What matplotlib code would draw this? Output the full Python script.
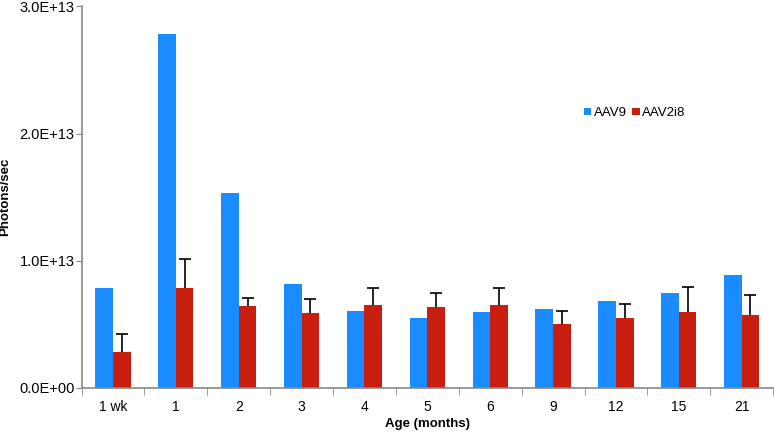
import numpy as np
import matplotlib
matplotlib.use("Agg")
import matplotlib.pyplot as plt
from matplotlib.ticker import FuncFormatter

plt.rcParams['font.family'] = ['Liberation Sans', 'DejaVu Sans']

ages = ['1 wk', '1', '2', '3', '4', '5', '6', '9', '12', '15', '21']
aav9 = [7.8e12, 2.78e13, 1.53e13, 8.15e12, 6.0e12, 5.45e12, 5.95e12, 6.2e12, 6.8e12, 7.45e12, 8.85e12]
aav2i8 = [2.8e12, 7.8e12, 6.45e12, 5.9e12, 6.5e12, 6.35e12, 6.5e12, 5.0e12, 5.45e12, 5.95e12, 5.75e12]
aav2i8_err = [1.45e12, 2.3e12, 0.6e12, 1.05e12, 1.37e12, 1.06e12, 1.37e12, 1.06e12, 1.16e12, 1.95e12, 1.53e12]

blue = '#1a8cff'
red = '#c81e10'
w = 0.28

fig = plt.figure(figsize=(7.77, 4.33), dpi=100)
ax = fig.add_axes([0.105, 0.105, 0.89, 0.88])

x = np.arange(len(ages))
ax.bar(x - w / 2, aav9, w, color=blue, label='AAV9')
bars = ax.bar(x + w / 2, aav2i8, w, color=red, label='AAV2i8',
              yerr=[np.zeros(len(aav2i8)), aav2i8_err],
              error_kw=dict(ecolor='black', elinewidth=1.2, capsize=4, capthick=1.2))
# hide the lower caps (only upward error bars in the original)
caps = bars.errorbar.lines[1]
if len(caps) > 1:
    caps[0].set_visible(False)

ax.set_xlim(-0.5, len(ages) - 0.5)
ax.set_ylim(0, 3e13)
ax.set_yticks([0, 1e13, 2e13, 3e13])
ax.yaxis.set_major_formatter(FuncFormatter(lambda v, p: f"{v:.1E}"))

ax.set_xticks(x)
ax.set_xticklabels(ages)
ax.set_xticks(np.arange(-0.5, len(ages), 1), minor=True)
ax.tick_params(axis='x', which='major', length=0, pad=9, labelsize=10)
ax.tick_params(axis='x', which='minor', length=5, color='#888888', direction='out')
ax.tick_params(axis='y', length=4, color='#888888', labelsize=10.5, pad=1)

for s in ['top', 'right']:
    ax.spines[s].set_visible(False)
for s in ['left', 'bottom']:
    ax.spines[s].set_color('#888888')
    ax.spines[s].set_linewidth(1.2)

ax.set_ylabel('Photons/sec', fontweight='bold', fontsize=9.5)
ax.yaxis.set_label_coords(-0.102, 0.5)
ax.set_xlabel('Age (months)', fontweight='bold', fontsize=9.5, labelpad=3)

ax.legend(loc='center', bbox_to_anchor=(0.80, 0.72), ncol=2, frameon=False,
          fontsize=9.5, handlelength=0.55, handleheight=0.55, handletextpad=0.2,
          columnspacing=0.4)

fig.savefig('out.png', dpi=100)
